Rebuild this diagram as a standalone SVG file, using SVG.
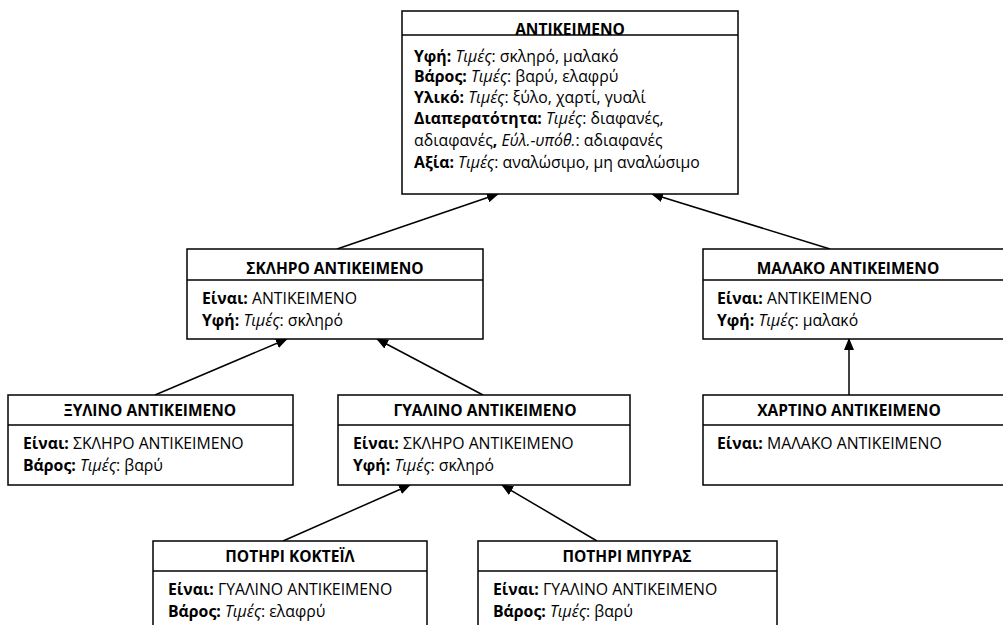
<svg xmlns="http://www.w3.org/2000/svg" width="1003" height="625" viewBox="0 0 1003 625">
<defs>
<style>
.box{fill:#fff;stroke:#000;stroke-width:1.5}
.div{stroke:#000;stroke-width:1.5}
text{font-family:"Open Sans","Liberation Sans",Arial,sans-serif;font-size:15.8px;fill:#000}
.h{font-weight:bold;text-anchor:middle;font-size:15.5px}
.b{font-weight:bold}
.i{font-style:italic}
.con{stroke:#000;stroke-width:1.5;fill:none;marker-end:url(#arr)}
</style>
<marker id="arr" markerUnits="userSpaceOnUse" markerWidth="12" markerHeight="10" refX="11" refY="5" orient="auto">
<path d="M0,0 L12,5 L0,10 z" fill="#000"/>
</marker>
</defs>
<rect width="1003" height="625" fill="#fff"/>

<g id="connectors">
<line class="con" x1="337" y1="249" x2="498" y2="194"/>
<line class="con" x1="830" y1="249" x2="652" y2="194"/>
<line class="con" x1="155" y1="395" x2="287" y2="339"/>
<line class="con" x1="483" y1="395" x2="377" y2="339"/>
<line class="con" x1="849" y1="395" x2="849" y2="339"/>
<line class="con" x1="283" y1="541" x2="410" y2="485"/>
<line class="con" x1="597" y1="541" x2="502" y2="485"/>
</g>

<g id="antikeimeno">
<rect class="box" x="402" y="11" width="336" height="183"/>
<text class="h" x="570" y="35">ΑΝΤΙΚΕΙΜΕΝΟ</text>
<line class="div" x1="402" y1="35" x2="738" y2="35"/>
<text x="414" y="62"><tspan class="b">Υφή:</tspan> <tspan class="i">Τιμές</tspan>: σκληρό, μαλακό</text>
<text x="414" y="82"><tspan class="b">Βάρος:</tspan> <tspan class="i">Τιμές</tspan>: βαρύ, ελαφρύ</text>
<text x="414" y="103"><tspan class="b">Υλικό:</tspan> <tspan class="i">Τιμές</tspan>: ξύλο, χαρτί, γυαλί</text>
<text x="414" y="124"><tspan class="b">Διαπερατότητα:</tspan> <tspan class="i">Τιμές</tspan>: διαφανές,</text>
<text x="414" y="146">αδιαφανές<tspan class="b">,</tspan> <tspan class="i">Εύλ.-υπόθ.</tspan>: αδιαφανές</text>
<text x="414" y="168"><tspan class="b">Αξία:</tspan> <tspan class="i">Τιμές</tspan>: αναλώσιμο, μη αναλώσιμο</text>
</g>

<g id="skliro">
<rect class="box" x="187" y="249" width="296" height="90"/>
<text class="h" x="335" y="274">ΣΚΛΗΡΟ ΑΝΤΙΚΕΙΜΕΝΟ</text>
<line class="div" x1="187" y1="280" x2="483" y2="280"/>
<text x="202" y="304"><tspan class="b">Είναι:</tspan> ΑΝΤΙΚΕΙΜΕΝΟ</text>
<text x="202" y="326"><tspan class="b">Υφή:</tspan> <tspan class="i">Τιμές</tspan>: σκληρό</text>
</g>

<g id="malako">
<rect class="box" x="703" y="249" width="310" height="90"/>
<text class="h" x="848" y="274">ΜΑΛΑΚΟ ΑΝΤΙΚΕΙΜΕΝΟ</text>
<line class="div" x1="703" y1="280" x2="1013" y2="280"/>
<text x="717" y="304"><tspan class="b">Είναι:</tspan> ΑΝΤΙΚΕΙΜΕΝΟ</text>
<text x="717" y="326"><tspan class="b">Υφή:</tspan> <tspan class="i">Τιμές</tspan>: μαλακό</text>
</g>

<g id="xylino">
<rect class="box" x="8" y="395" width="285" height="90"/>
<text class="h" x="150" y="416">ΞΥΛΙΝΟ ΑΝΤΙΚΕΙΜΕΝΟ</text>
<line class="div" x1="8" y1="425" x2="293" y2="425"/>
<text x="23" y="449"><tspan class="b">Είναι:</tspan> ΣΚΛΗΡΟ ΑΝΤΙΚΕΙΜΕΝΟ</text>
<text x="23" y="471"><tspan class="b">Βάρος:</tspan> <tspan class="i">Τιμές</tspan>: βαρύ</text>
</g>

<g id="gyalino">
<rect class="box" x="338" y="395" width="292" height="90"/>
<text class="h" x="485" y="416">ΓΥΑΛΙΝΟ ΑΝΤΙΚΕΙΜΕΝΟ</text>
<line class="div" x1="338" y1="425" x2="630" y2="425"/>
<text x="353" y="449"><tspan class="b">Είναι:</tspan> ΣΚΛΗΡΟ ΑΝΤΙΚΕΙΜΕΝΟ</text>
<text x="353" y="471"><tspan class="b">Υφή:</tspan> <tspan class="i">Τιμές</tspan>: σκληρό</text>
</g>

<g id="xartino">
<rect class="box" x="703" y="395" width="310" height="90"/>
<text class="h" x="849" y="416">ΧΑΡΤΙΝΟ ΑΝΤΙΚΕΙΜΕΝΟ</text>
<line class="div" x1="703" y1="425" x2="1013" y2="425"/>
<text x="717" y="449"><tspan class="b">Είναι:</tspan> ΜΑΛΑΚΟ ΑΝΤΙΚΕΙΜΕΝΟ</text>
</g>

<g id="potiri-kokteil">
<rect class="box" x="153" y="541" width="274" height="100"/>
<text class="h" x="290" y="562">ΠΟΤΗΡΙ ΚΟΚΤΕΪΛ</text>
<line class="div" x1="153" y1="571" x2="427" y2="571"/>
<text x="168" y="595"><tspan class="b">Είναι:</tspan> ΓΥΑΛΙΝΟ ΑΝΤΙΚΕΙΜΕΝΟ</text>
<text x="168" y="617"><tspan class="b">Βάρος:</tspan> <tspan class="i">Τιμές</tspan>: ελαφρύ</text>
</g>

<g id="potiri-mpyras">
<rect class="box" x="478" y="541" width="299" height="100"/>
<text class="h" x="627" y="562">ΠΟΤΗΡΙ ΜΠΥΡΑΣ</text>
<line class="div" x1="478" y1="571" x2="777" y2="571"/>
<text x="493" y="595"><tspan class="b">Είναι:</tspan> ΓΥΑΛΙΝΟ ΑΝΤΙΚΕΙΜΕΝΟ</text>
<text x="493" y="617"><tspan class="b">Βάρος:</tspan> <tspan class="i">Τιμές</tspan>: βαρύ</text>
</g>
</svg>
